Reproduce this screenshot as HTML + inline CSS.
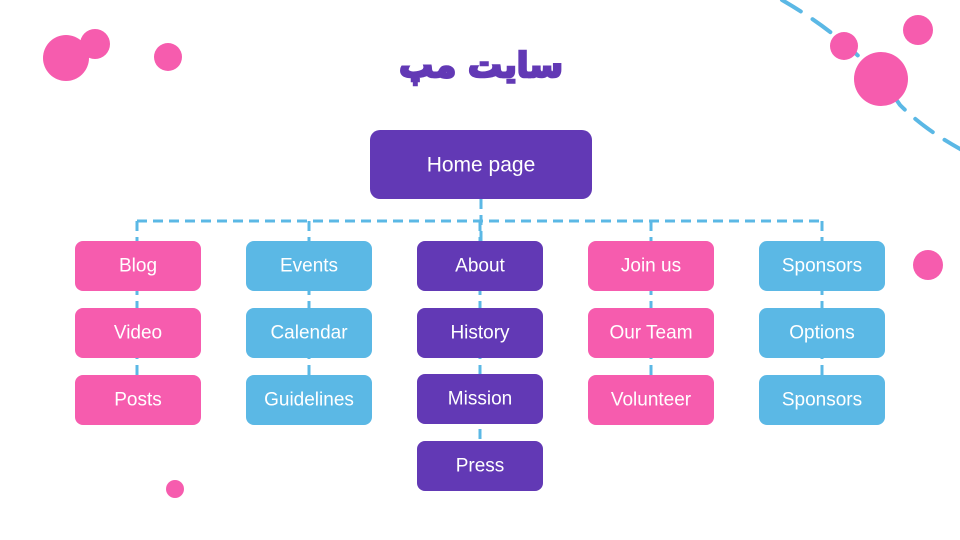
<!DOCTYPE html>
<html><head><meta charset="utf-8"><style>
html,body{margin:0;padding:0;background:#fff;}
svg{display:block}
text{font-family:"Liberation Sans","DejaVu Sans",sans-serif;font-size:19px;fill:#fff;text-anchor:middle;dominant-baseline:central}
</style></head><body>
<svg width="960" height="540" viewBox="0 0 960 540">
<path d="M782 0 Q 860 45 900 105 Q 925 130 962 150" fill="none" stroke="#5bb8e5" stroke-width="4" stroke-linecap="round" stroke-dasharray="22 14"/>
<g fill="#f65cae">
<circle cx="66" cy="58" r="23"/><circle cx="95" cy="44" r="15"/><circle cx="168" cy="57" r="14"/>
<circle cx="844" cy="46" r="14"/><circle cx="918" cy="30" r="15"/><circle cx="881" cy="79" r="27"/>
<circle cx="928" cy="265" r="15"/><circle cx="175" cy="489" r="9"/>
</g>
<text x="481" y="66" style="font-family:'DejaVu Sans',sans-serif;font-size:34px;font-weight:bold;fill:#6239b5;stroke:#6239b5;stroke-width:2.5">سایت مپ</text>
<g stroke="#5bb8e5" stroke-width="3" stroke-dasharray="10 6" fill="none">
<path d="M137 221 H822"/>
<path d="M481 199 V241"/>
<path d="M137 221 V400"/><path d="M309 221 V400"/><path d="M480 221 V466"/><path d="M651 221 V400"/><path d="M822 221 V400"/>
</g>
<rect x="370" y="130" width="222" height="69" rx="10" fill="#6239b5"/>
<text x="481" y="165" style="font-size:21px">Home page</text>
<g>
<rect x="75" y="241" width="126" height="50" rx="8" fill="#f65cae"/><text x="138" y="266">Blog</text>
<rect x="75" y="308" width="126" height="50" rx="8" fill="#f65cae"/><text x="138" y="333">Video</text>
<rect x="75" y="375" width="126" height="50" rx="8" fill="#f65cae"/><text x="138" y="400">Posts</text>
<rect x="246" y="241" width="126" height="50" rx="8" fill="#5bb8e5"/><text x="309" y="266">Events</text>
<rect x="246" y="308" width="126" height="50" rx="8" fill="#5bb8e5"/><text x="309" y="333">Calendar</text>
<rect x="246" y="375" width="126" height="50" rx="8" fill="#5bb8e5"/><text x="309" y="400">Guidelines</text>
<rect x="417" y="241" width="126" height="50" rx="8" fill="#6239b5"/><text x="480" y="266">About</text>
<rect x="417" y="308" width="126" height="50" rx="8" fill="#6239b5"/><text x="480" y="333">History</text>
<rect x="417" y="374" width="126" height="50" rx="8" fill="#6239b5"/><text x="480" y="399">Mission</text>
<rect x="417" y="441" width="126" height="50" rx="8" fill="#6239b5"/><text x="480" y="466">Press</text>
<rect x="588" y="241" width="126" height="50" rx="8" fill="#f65cae"/><text x="651" y="266">Join us</text>
<rect x="588" y="308" width="126" height="50" rx="8" fill="#f65cae"/><text x="651" y="333">Our Team</text>
<rect x="588" y="375" width="126" height="50" rx="8" fill="#f65cae"/><text x="651" y="400">Volunteer</text>
<rect x="759" y="241" width="126" height="50" rx="8" fill="#5bb8e5"/><text x="822" y="266">Sponsors</text>
<rect x="759" y="308" width="126" height="50" rx="8" fill="#5bb8e5"/><text x="822" y="333">Options</text>
<rect x="759" y="375" width="126" height="50" rx="8" fill="#5bb8e5"/><text x="822" y="400">Sponsors</text>
</g>
</svg>
</body></html>
